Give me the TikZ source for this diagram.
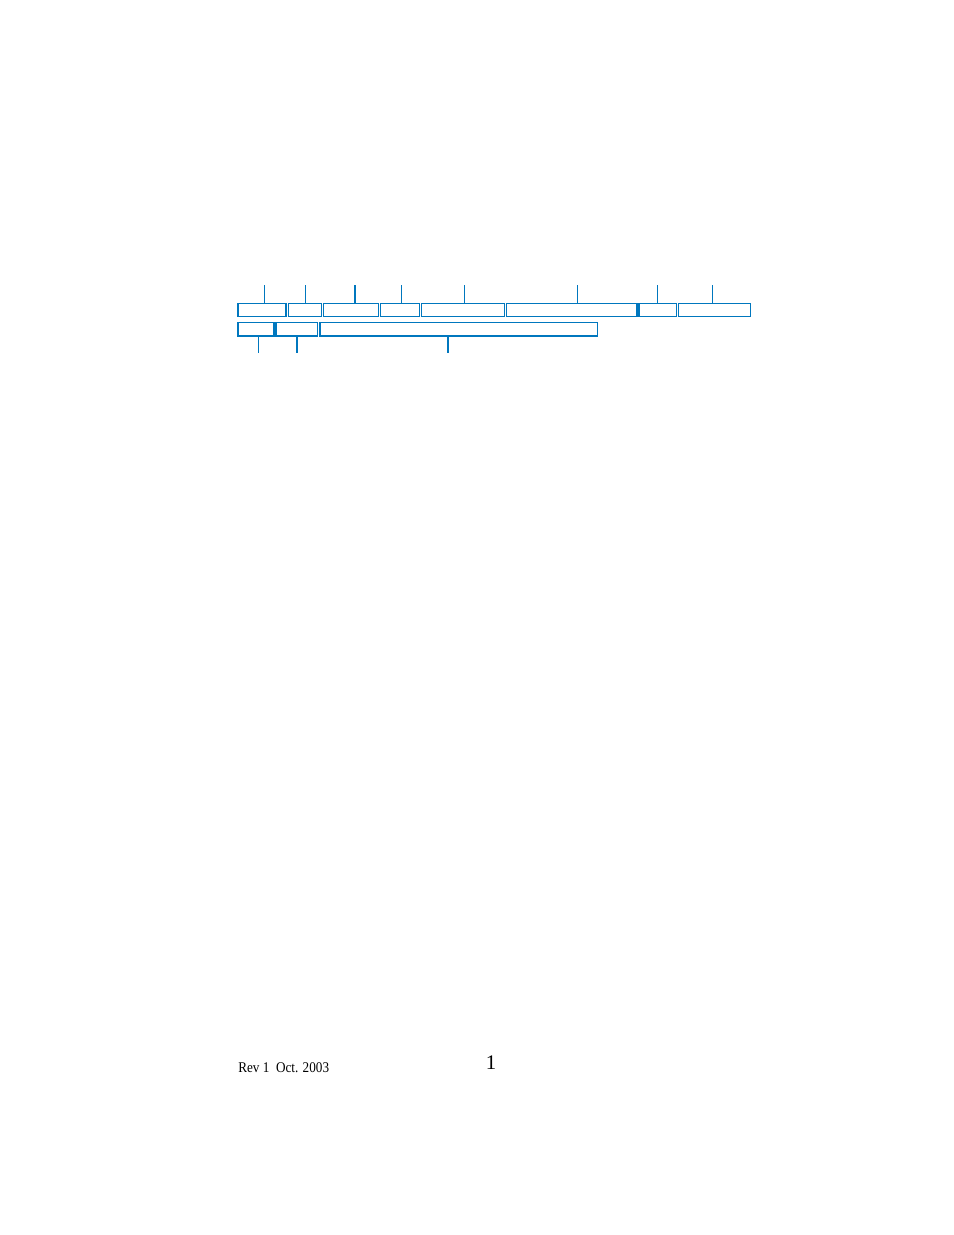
\documentclass[tikz,border=0pt]{standalone}
\usepackage{fontspec}
\setmainfont{Liberation Serif}
\definecolor{fieldblue}{RGB}{0,119,190}
\tikzset{
  fieldbox/.style={draw=fieldblue, line width=0.65pt},
  fieldedge/.style={draw=fieldblue, line width=1.3pt},
  fieldtick/.style={draw=fieldblue, line width=0.65pt},
  fieldtickb/.style={draw=fieldblue, line width=1.3pt},
}
\begin{document}
\begin{tikzpicture}[x=0.6415pt, y=-0.6415pt]
\useasboundingbox (0,0) rectangle (954,1235);
% upper row of fields
\foreach \a/\b in {238/286, 288.3/321.7, 323.3/378.7, 380.3/419.7, 421.3/504.7, 506.3/637.2, 639/676.7, 678.3/750.7}
  \draw[fieldbox] (\a,303.3) rectangle (\b,316.3);
\draw[fieldedge] (285.6,303.3) -- (285.6,316.3);
\draw[fieldedge] (637.2,303.3) -- (637.2,316.3);
% ticks above
\foreach \x in {264.3, 305.3, 401.3, 464.3, 577.3, 657.3, 712.3}
  \draw[fieldtick] (\x,285) -- (\x,303.3);
\draw[fieldtickb] (355,285) -- (355,303.3);
% lower row of fields
\foreach \a/\b in {238/274, 276/317.7, 320/597.7}
  \draw[fieldbox] (\a,322.3) rectangle (\b,336);
\draw[fieldedge] (238,336) -- (274,336) -- (274,322.3);
\draw[fieldedge] (276,336) -- (317.7,336);
\draw[fieldedge] (320,336) -- (597.7,336);
% ticks below
\draw[fieldtick] (258.3,336) -- (258.3,352.7);
\draw[fieldtickb] (297,336) -- (297,352.7);
\draw[fieldtickb] (448,336) -- (448,352.7);
% footer
\node[anchor=base west, inner sep=0pt, font=\fontsize{9.5}{11}\selectfont] (rev) at (238,1072) {\scalebox{0.89}[1]{Rev 1\ \ Oct. 2003}};
\node[anchor=base, inner sep=0pt, font=\fontsize{13.3}{15}\selectfont] (page) at (491,1069) {1};
\end{tikzpicture}
\end{document}
